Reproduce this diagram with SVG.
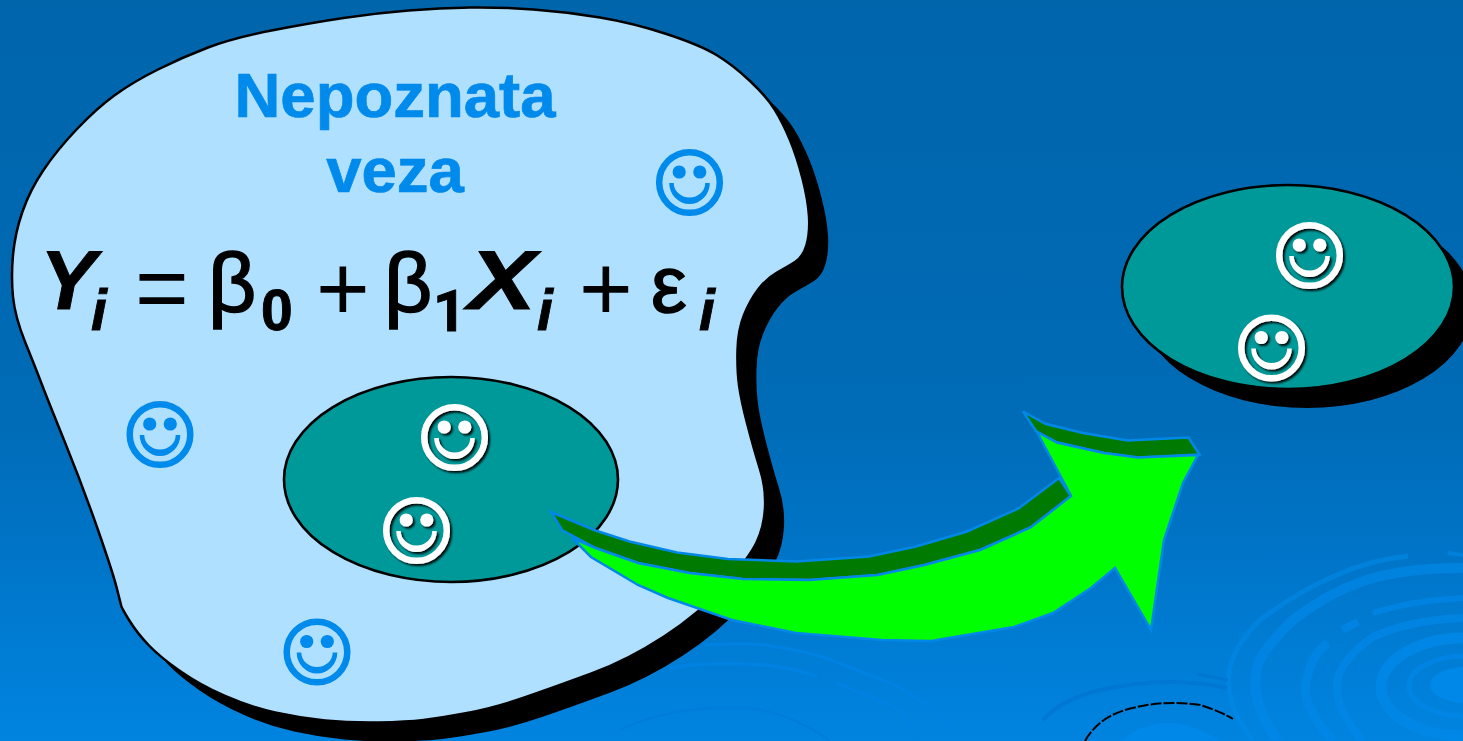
<svg xmlns="http://www.w3.org/2000/svg" xmlns:xlink="http://www.w3.org/1999/xlink" width="1463" height="741" viewBox="0 0 1463 741">
<style>
.ln{fill:#b0e0ff;stroke:#000;stroke-width:2.5}
.tl{fill:#009999;stroke:#000;stroke-width:2.6}
.sh{fill:#000}
.t{font-family:"Liberation Sans",Arial,sans-serif;font-weight:700;fill:#008aec;stroke:#008aec;stroke-width:.7;font-size:63.5px;text-anchor:middle}
.f{font-family:"Liberation Sans",Arial,sans-serif;fill:#000}
.bi{font-weight:700;font-style:italic;stroke:#000;stroke-width:.9}
.b{font-weight:700;stroke:#000;stroke-width:.9}
.s{stroke:#000;stroke-width:1.6}
.r{fill:none;stroke:#0088e8;stroke-linejoin:round}
.d{fill:none;stroke:#0074ce}
.mr{fill:none;stroke:#0082e2}
.ag{fill:#00ff00;stroke:#0088e8;stroke-width:2.5;stroke-linejoin:miter}
.ad{fill:#007a00;stroke:#0088e8;stroke-width:2.5;stroke-linejoin:miter}
</style>
<defs>
<linearGradient id="bg" x1="0" y1="0" x2="0" y2="1"><stop offset="0" stop-color="#0065ab"/><stop offset="0.55" stop-color="#006bb6"/><stop offset="0.72" stop-color="#0073c5"/><stop offset="1" stop-color="#0084e0"/></linearGradient>
<filter id="ds" x="-20%" y="-20%" width="150%" height="150%"><feDropShadow dx="2" dy="2" stdDeviation="1.2" flood-color="#000" flood-opacity="0.95"/></filter>
<g id="smile">
<circle r="30.3" fill="none" stroke="currentColor" stroke-width="6.5"/>
<circle cx="-10.3" cy="-10.5" r="6.6" fill="currentColor"/>
<circle cx="10.3" cy="-10.5" r="6.6" fill="currentColor"/>
<path d="M-20.3,0.5 A20.3,21 0 0 0 20.3,0.5 L15.7,0.5 A15.7,14.5 0 0 1 -15.7,0.5 Z" fill="currentColor"/>
</g>
<path id="blob" d="M121,605 L117,589 Q113,573 98,530 Q83,487 65,442.5 Q47,398 41.5,383.5 Q36,369 25.5,343 Q15,317 13,297 Q11,277 13,255 Q15,233 22.5,211.5 Q30,190 43.5,170 Q57,150 77,129 Q97,108 115,95 Q133,82 158,69.5 Q183,57 208,47.5 Q233,38 271.5,30.5 Q310,23 343.5,18 Q377,13 408.5,10.5 Q440,8 470,7.5 Q500,7 533.5,9.5 Q567,12 600,17.5 Q633,23 666.5,34 Q700,45 716.5,55 Q733,65 750,81 Q767,97 775,110 Q783,123 790,140 Q797,157 802.5,178.5 Q808,200 809,216.5 Q810,233 806.5,245 Q803,257 795,262 Q787,267 777,272.5 Q767,278 758.5,289 Q750,300 744,315 Q738,330 737.5,350 Q737,370 739,385 Q741,400 747.5,425 Q754,450 760,469 Q766,488 765,507.5 Q764,527 756.5,542.5 Q749,558 724.5,585.5 Q700,613 664,636.5 Q628,660 591.5,673.5 Q555,687 524.5,697.5 Q494,708 467,713 Q440,718 423.5,720 Q407,722 378.5,722.5 Q350,723 325,720.5 Q300,718 275,712.5 Q250,707 225,696 Q200,685 180,671 Q160,657 148.5,645 Q137,633 129,620 Q121,607 121,605 Z"/>
</defs>
<rect width="1463" height="741" fill="url(#bg)"/>
<g id="ripples">
<path class="r" stroke-width="5" opacity=".6" d="M1408,556 Q1370,560 1337,575 Q1300,590 1260,620 Q1235,645 1230,667 Q1225,690 1237,717 L1253,741"/>
<path class="r" stroke-width="4" opacity=".6" d="M1448,553 L1463,555"/>
<path class="r" stroke-width="10" opacity=".7" d="M1463,568 Q1413,568 1377,577 Q1335,588 1293,620 Q1262,650 1257,667 Q1250,700 1273,733 L1278,741"/>
<path class="r" stroke-width="6" opacity=".7" d="M1463,598 Q1410,601 1373,613"/>
<path class="r" stroke-width="8" opacity=".7" d="M1342,630 L1358,622"/>
<path class="r" stroke-width="9" opacity=".7" d="M1328,643 Q1310,655 1305,687 Q1305,710 1333,741"/>
<path class="r" stroke-width="8" opacity=".7" d="M1463,618 Q1410,620 1373,637 Q1340,660 1337,683 Q1335,710 1363,741"/>
<ellipse class="r" stroke-width="11" cx="1465" cy="687" rx="84" ry="49" opacity=".85"/>
<ellipse class="r" stroke-width="5" cx="1465" cy="686" rx="56" ry="30" opacity=".7"/>
<ellipse cx="1465" cy="685" rx="35" ry="18" fill="#0088e8"/>
<path class="d" stroke-width="4" d="M1043,720 Q1060,700 1100,690 Q1167,675 1227,688" opacity=".7"/>
<path class="d" stroke-width="3" d="M1197,674 L1228,680" opacity=".7"/>
<path d="M1120,741 Q1167,705 1220,741 Z" fill="#0088e8"/>
<path fill="none" stroke="#000" stroke-width="2" stroke-dasharray="11 2" d="M1085,741 Q1100,714 1137,707 Q1167,700 1200,705 Q1222,712 1233,719"/>
<path class="mr" stroke-width="3" d="M704,645 Q740,643 765,645 Q800,650 823,657 Q870,675 899,687 Q930,705 949,727"/>
<path class="mr" stroke-width="3.5" d="M670,668 Q710,661 765,665 Q795,668 817,677"/>
<path class="mr" stroke-width="3" d="M836,683 Q880,700 899,710 L918,740"/>
<path fill="none" stroke="#007cda" stroke-width="2" d="M620,730 Q670,705 746,708 Q790,712 830,741"/>
</g>
<g id="blob-node">
<use xlink:href="#blob" href="#blob" class="sh" transform="translate(19,19)"/>
<use xlink:href="#blob" href="#blob" class="ln"/>
<text class="t" x="395" y="117">Nepoznata</text>
<text class="t" x="395" y="192">veza</text>
</g>
<g id="formula">
<text class="f bi" x="40" y="309" font-size="84">Y</text>
<text class="f bi" x="91" y="330" font-size="57">i</text>
<text class="f" x="135" y="320" font-size="92">=</text>
<text class="f s" x="208" y="312" font-size="84">β</text>
<text class="f b" x="261" y="330" font-size="57">0</text>
<text class="f" x="316" y="320" font-size="92">+</text>
<text class="f s" x="384" y="312" font-size="84">β</text>
<text font-family="Roboto,sans-serif" font-weight="700" stroke="#000" stroke-width=".9" x="433" y="331" font-size="58">1</text>
<text class="f bi" x="468" y="309" font-size="84" textLength="68" lengthAdjust="spacingAndGlyphs">X</text>
<text class="f bi" x="537" y="330" font-size="57">i</text>
<text class="f" x="579" y="320" font-size="92">+</text>
<text class="f s" x="651" y="312" font-size="80">ε</text>
<text class="f bi" x="699" y="330" font-size="57">i</text>
</g>
<g id="smiley-blue-1" style="color:#008aec"><use xlink:href="#smile" href="#smile" x="689.5" y="182.5"/></g>
<g id="smiley-blue-2" style="color:#008aec"><use xlink:href="#smile" href="#smile" x="160" y="434.5"/></g>
<g id="smiley-blue-3" style="color:#008aec"><use xlink:href="#smile" href="#smile" x="317" y="652"/></g>
<g id="sample-ellipse"><ellipse class="tl" cx="451" cy="479.5" rx="167" ry="102.5"/></g>
<g id="smiley-white-1" style="color:#fff" filter="url(#ds)"><use xlink:href="#smile" href="#smile" x="454.5" y="437.5"/></g>
<g id="smiley-white-2" style="color:#fff" filter="url(#ds)"><use xlink:href="#smile" href="#smile" x="416.5" y="530.5"/></g>
<g id="result-ellipse">
<ellipse class="sh" cx="1307" cy="306" rx="166" ry="102"/>
<ellipse class="tl" cx="1288" cy="287" rx="166" ry="102"/>
</g>
<g id="smiley-white-3" style="color:#fff" filter="url(#ds)"><use xlink:href="#smile" href="#smile" x="1309.5" y="255.5"/></g>
<g id="smiley-white-4" style="color:#fff" filter="url(#ds)"><use xlink:href="#smile" href="#smile" x="1271.5" y="348"/></g>
<g id="connectors">
<path class="ad" d="M551,512 L595.5,530.5 L629.5,541.5 L677,552.5 L728,559 L796.5,561.5 L869,556.5 L916,546.5 L967,531.5 L1018.5,508.5 L1059,478 L1071,496 L1030.5,527.5 L980,550 L924.5,565 L877.5,575 L809,580 L743,579 L689.5,573 L638,563 L595.5,548 L562,530 Z"/>
<path class="ad" d="M1023,411.5 L1046,424 L1083,433 L1127.5,440.5 L1188.5,437.5 L1199.5,454.5 L1138,457.5 L1104,453 L1057,442.5 L1036,431 Z"/>
<path class="ag" d="M572,538 L595.5,548 L638,563 L689.5,573 L743,579 L809,580 L877.5,575 L924.5,565 L980,550 L1030.5,527.5 L1071,496 L1037,432 L1057,442.5 L1104,453 L1138,457.5 L1198,455 L1183,483 L1164,540 L1151,630 L1115,568 L1091,588 L1053,613 L1014,627 L931,641 L882,640 L796,633 L732,620 L668,598 L638,585 L591,557 Z"/>
</g>
</svg>
